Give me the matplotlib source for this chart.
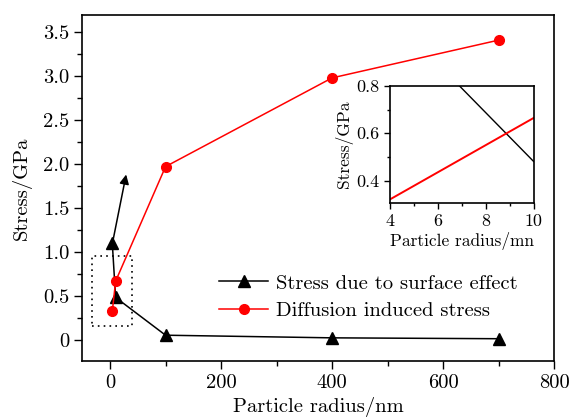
import matplotlib
matplotlib.use('Agg')
import matplotlib.pyplot as plt
from matplotlib.patches import Rectangle
from matplotlib.ticker import MultipleLocator, FixedLocator, FixedFormatter

plt.rcParams['font.family'] = 'cmr10'
plt.rcParams['axes.unicode_minus'] = False
plt.rcParams['mathtext.fontset'] = 'cm'

# particle radius (nm) and stress (GPa)
radius = [4, 10, 100, 400, 700]
surface_stress = [1.10, 0.48, 0.05, 0.02, 0.01]
diffusion_stress = [0.32, 0.665, 1.97, 2.98, 3.41]

yticks = [0, 0.5, 1.0, 1.5, 2.0, 2.5, 3.0, 3.5]
ytick_labels = ['0', '0.5', '1.0', '1.5', '2.0', '2.5', '3.0', '3.5']
xticks = [0, 200, 400, 600, 800]

inset_yticks = [0.4, 0.6, 0.8]
inset_xticks = [4, 6, 8, 10]

fs = 14.8

fig = plt.figure(figsize=(5.74, 4.17), dpi=100)
ax = fig.add_axes([0.1434, 0.1336, 0.8218, 0.8312])

ax.plot(radius, surface_stress, 'k-', marker='^', markersize=8, lw=1.1,
        label='Stress due to surface effect')
ax.plot(radius, diffusion_stress, 'r-', marker='o', markersize=7, lw=1.1,
        label='Diffusion induced stress')

# arrow pointing towards the zoomed inset
ax.annotate('', xy=(29, 1.88), xytext=(5, 1.12),
            arrowprops=dict(arrowstyle='-|>', color='k', lw=1.1,
                            mutation_scale=14, shrinkA=0, shrinkB=0))

# dotted box around the small-radius region
ax.add_patch(Rectangle((-33, 0.15), 72, 0.80, fill=False, ls=(0, (1, 2.5)),
                       lw=1.2, ec='k'))

ax.set_xlim(-50, 800)
ax.set_ylim(-0.247, 3.70)
ax.set_xticks(xticks)
ax.xaxis.set_minor_locator(MultipleLocator(100))
ax.yaxis.set_major_locator(FixedLocator(yticks))
ax.yaxis.set_major_formatter(FixedFormatter(ytick_labels))
ax.yaxis.set_minor_locator(MultipleLocator(0.25))
ax.tick_params(which='both', direction='out', top=False, right=False,
               labelsize=fs, width=1.0)
ax.tick_params(which='major', length=6)
ax.tick_params(which='minor', length=3.5)
for s in ax.spines.values():
    s.set_linewidth(1.2)

ax.set_xlabel('Particle radius/nm', fontsize=fs, labelpad=3)
ax.set_ylabel('Stress/GPa', fontsize=fs, labelpad=8)

ax.legend(loc='lower right', bbox_to_anchor=(0.962, 0.065), frameon=False,
          fontsize=fs, handlelength=2.35, labelspacing=0.45, handletextpad=0.4)

# inset: enlarged view of 4-10 nm
ins = fig.add_axes([0.679, 0.513, 0.251, 0.281])
ins.plot(radius, surface_stress, 'k-', lw=1.0)
ins.plot(radius, diffusion_stress, 'r-', lw=1.4)
ins.set_xlim(4, 10)
ins.set_ylim(0.305, 0.8)
ins.set_xticks(inset_xticks)
ins.set_yticks(inset_yticks)
ins.xaxis.set_minor_locator(MultipleLocator(1))
ins.yaxis.set_minor_locator(MultipleLocator(0.1))
ins.tick_params(which='both', direction='out', top=False, right=False,
                labelsize=13, width=1.0)
ins.tick_params(which='major', length=4)
ins.tick_params(which='minor', length=2.5)
for s in ins.spines.values():
    s.set_linewidth(1.2)
ins.set_xlabel('Particle radius/mn', fontsize=12.5, labelpad=2)
ins.set_ylabel('Stress/GPa', fontsize=12.5, labelpad=2)

fig.savefig('out.png', dpi=100)
